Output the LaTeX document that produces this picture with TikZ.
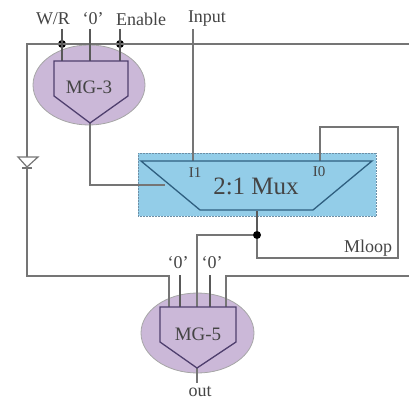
\documentclass[tikz,border=0pt]{standalone}
\usepackage{fontspec}
\setmainfont{Liberation Serif}
\usepackage{xcolor}
\definecolor{wirecol}{HTML}{757575}
\definecolor{inkcol}{HTML}{444444}
\definecolor{mgfill}{HTML}{CBB8D8}
\definecolor{mgline}{HTML}{4F3F6E}
\definecolor{muxfill}{HTML}{93CDE8}
\definecolor{muxline}{HTML}{2F5F80}
\tikzset{
  wire/.style={draw=wirecol,line width=1.2pt},
  darkwire/.style={draw=black!65,line width=1.2pt},
  junction/.style={fill=black,circle,inner sep=0pt,minimum size=8pt},
  lab/.style={text=inkcol,inner sep=0pt,font=\fontsize{18}{18}\selectfont},
  smalllab/.style={text=inkcol,inner sep=0pt,font=\fontsize{15}{15}\selectfont},
  mglab/.style={text=inkcol,inner sep=0pt,font=\fontsize{19}{19}\selectfont},
  mgblob/.style={fill=mgfill,draw=black!35,line width=0.8pt},
  mgbody/.style={draw=mgline,line width=1.3pt},
}
\begin{document}
\begin{tikzpicture}[x=1pt,y=-1pt]
        \useasboundingbox (0,0) rectangle (409,401);
        % mux box
        \fill [muxfill] (138,153) rectangle (376,216);
        \draw [muxline!70,densely dotted,line width=0.5pt] (138,153) rectangle (376,216);
        % blobs
        \filldraw [mgblob] (89,85)circle[x radius=56,y radius=40];
        \filldraw [mgblob] (197.5,333)circle[x radius=56.5,y radius=40];
        % named points
        \coordinate (wrTop) at (62,29);
        \coordinate (wrIn) at (62,61);
        \coordinate (zeroTop) at (90,29);
        \coordinate (zeroIn) at (90,61);
        \coordinate (enTop) at (120,29);
        \coordinate (enIn) at (120,61);
        \coordinate (mgThreeOut) at (90,123);
        \coordinate (muxLeft) at (165,185);
        \coordinate (iOneIn) at (193,161);
        \coordinate (inputTop) at (193,29);
        \coordinate (iZeroIn) at (320,161);
        \coordinate (muxOut) at (257,211);
        \coordinate (busLeft) at (27,44);
        \coordinate (busRight) at (409,44);
        \coordinate (lowLeft) at (27,276);
        \coordinate (lowRight) at (409,276);
        \coordinate (fiveA) at (169,307);
        \coordinate (fiveB) at (180,307);
        \coordinate (fiveC) at (197,307);
        \coordinate (fiveD) at (210,307);
        \coordinate (fiveE) at (226,307);
        \coordinate (fiveOut) at (197,368);
        \coordinate (outEnd) at (197,383);
        \coordinate (diodeTop) at (27,157);
        \coordinate (diodeTip) at (27,167);
        % junctions
        \node[junction] (dotWr) at (62,44) {};
        \node[junction] (dotEn) at (120,44) {};
        \node[junction] (dotMux) at (257,235) {};
        % wires
        \draw [wire] (busRight) -- (busLeft) -- (diodeTop);
        \draw [wire] (diodeTip) -- (lowLeft) -| (fiveA);
        \draw [wire] (lowRight) -| (fiveE);
        \draw [darkwire] (wrTop) -- (wrIn);
        \draw [darkwire] (zeroTop) -- (zeroIn);
        \draw [darkwire] (enTop) -- (enIn);
        \draw [wire] (inputTop) -- (iOneIn);
        \draw [wire] (mgThreeOut) |- (muxLeft);
        \draw [wire] (iZeroIn) |- (398,127) |- (dotMux |- 0,258) -- (dotMux);
        \draw [darkwire] (dotMux) -- (muxOut);
        \draw [wire] (dotMux) -| (fiveC);
        \draw [darkwire] (fiveB |- 0,275) -- (fiveB);
        \draw [darkwire] (fiveD |- 0,275) -- (fiveD);
        \draw [wire] (fiveOut) -- (outEnd);
        % diode
        \draw [wire] (18,157) -- (38,157) -- (diodeTip) -- cycle;
        \draw [wire] (22,168) -- (32,168);
        % gate bodies
        \draw [mgbody] (54,61) -- (128,61) -- (128,96) -- (mgThreeOut) -- (54,96) -- cycle;
        \draw [mgbody] (160,307) -- (236,307) -- (236,342) -- (fiveOut) -- (160,342) -- cycle;
        % mux
        \draw [muxline,line width=1.3pt] (141,161) -- (372,161) -- (313,210) -- (200,210) -- cycle;
        % text
        \node[lab] (lblWr) at (53,19) {W/R};
        \node[lab] (lblZero) at (93,19) {`0'};
        \node[lab] (lblEn) at (141,19) {Enable};
        \node[lab] (lblInput) at (207,19) {Input};
        \node[mglab] (lblThree) at (89,87) {MG-3};
        \node[mglab] (lblFive) at (198,334) {MG-5};
        \node[smalllab] (lblOne) at (195,173) {I1};
        \node[smalllab] (lblNought) at (319,172) {I0};
        \node[text=inkcol,inner sep=0pt,font=\fontsize{25}{25}\selectfont] (lblMux) at (256,186) {2:1 Mux};
        \node[lab] (lblLoop) at (368,248) {Mloop};
        \node[lab] (lblZeroA) at (178,263) {`0'};
        \node[lab] (lblZeroB) at (212,263) {`0'};
        \node[lab] (lblOut) at (200,392) {out};
\end{tikzpicture}
\end{document}
